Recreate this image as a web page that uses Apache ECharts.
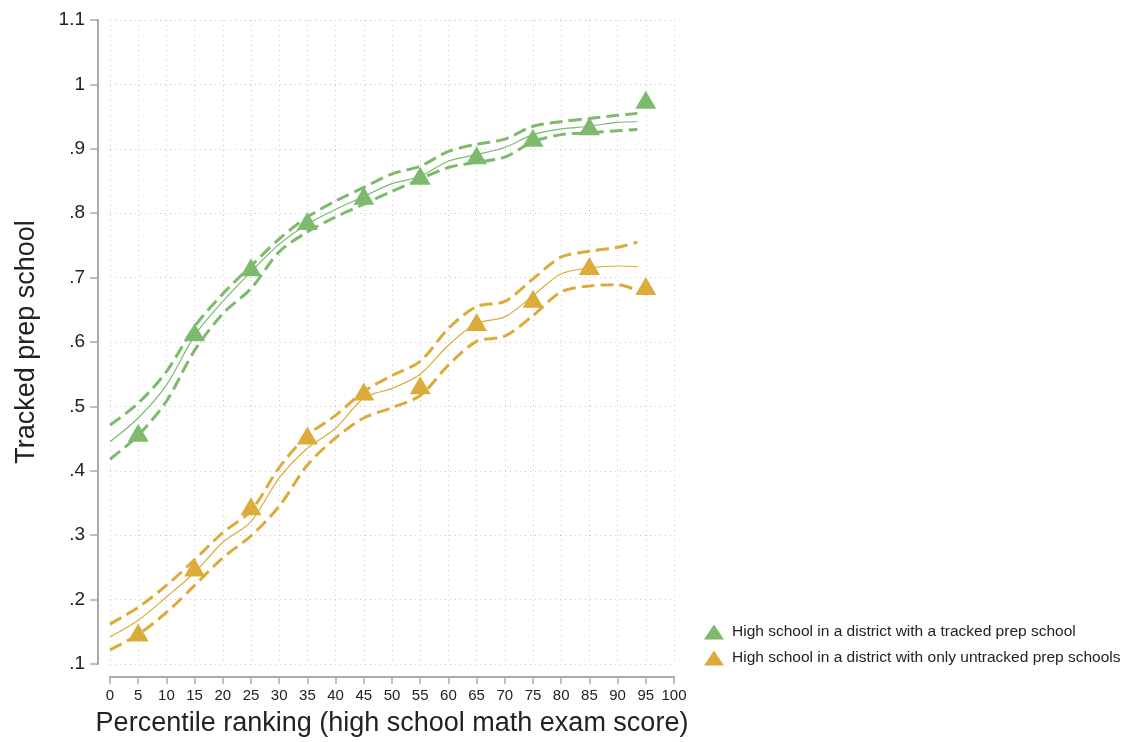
<!DOCTYPE html>
<html>
<head>
<meta charset="utf-8">
<script src="https://cdn.jsdelivr.net/npm/echarts@6/dist/echarts.min.js"></script>
<style>html,body{margin:0;padding:0;background:#fff;}#c{width:1127px;height:742px;}</style>
</head>
<body>
<div id="c"></div>
<script>
// Marker positions (percentile bins)
const binX = [5, 15, 25, 35, 45, 55, 65, 75, 85, 95];
const trackedMeans = [0.459, 0.615, 0.716, 0.788, 0.827, 0.858, 0.890, 0.917, 0.935, 0.976];
const untrackedMeans = [0.149, 0.250, 0.345, 0.455, 0.523, 0.533, 0.631, 0.667, 0.718, 0.687];

// Fitted curves
const fitX = [0, 5, 10, 15, 20, 25, 30, 35, 40, 45, 50, 55, 60, 65, 70, 75, 80, 85, 90, 93.5];
const trackedFit   = [0.445, 0.482, 0.533, 0.610, 0.663, 0.709, 0.752, 0.783, 0.806, 0.826, 0.846, 0.857, 0.881, 0.891, 0.902, 0.922, 0.931, 0.935, 0.941, 0.942];
const trackedUpper = [0.471, 0.505, 0.554, 0.624, 0.675, 0.718, 0.760, 0.794, 0.819, 0.840, 0.861, 0.873, 0.896, 0.907, 0.915, 0.935, 0.942, 0.947, 0.952, 0.955];
const trackedLower = [0.418, 0.455, 0.508, 0.587, 0.644, 0.683, 0.740, 0.771, 0.794, 0.814, 0.834, 0.853, 0.871, 0.879, 0.887, 0.911, 0.922, 0.925, 0.928, 0.930];
const untrackedFit   = [0.142, 0.168, 0.204, 0.242, 0.289, 0.321, 0.389, 0.435, 0.466, 0.513, 0.528, 0.550, 0.595, 0.629, 0.639, 0.672, 0.706, 0.715, 0.718, 0.717];
const untrackedUpper = [0.162, 0.188, 0.222, 0.262, 0.304, 0.338, 0.405, 0.455, 0.486, 0.523, 0.548, 0.570, 0.621, 0.655, 0.663, 0.698, 0.732, 0.741, 0.747, 0.755];
const untrackedLower = [0.122, 0.146, 0.180, 0.222, 0.265, 0.299, 0.345, 0.409, 0.451, 0.482, 0.498, 0.517, 0.564, 0.601, 0.609, 0.641, 0.678, 0.687, 0.689, 0.680];

const yTicks = [0.1, 0.2, 0.3, 0.4, 0.5, 0.6, 0.7, 0.8, 0.9, 1.0, 1.1];
const legendNames = ['High school in a district with a tracked prep school', 'High school in a district with only untracked prep schools'];

const GREEN = '#7dba6e';
const GOLD = '#dcab3a';
const FONT = 'Liberation Sans, Arial, sans-serif';

const pair = (xs, ys) => xs.map((x, i) => [x, ys[i]]);

function lineSeries(ys, color, dashed) {
  return {
    type: 'line', data: pair(fitX, ys), smooth: 0.3, showSymbol: false, symbol: 'none',
    silent: true, z: 2,
    lineStyle: dashed ? {color: color, width: 3, type: [13, 6]} : {color: color, width: 1.2}
  };
}

const chart = echarts.init(document.getElementById('c'), null, {renderer: 'canvas'});
chart.setOption({
  animation: false,
  backgroundColor: '#fff',
  grid: {left: 110, right: 453, top: 20, bottom: 75, containLabel: false},
  legend: {
    data: legendNames, orient: 'vertical', left: 699, top: 619,
    icon: 'triangle', itemWidth: 20, itemHeight: 15, itemGap: 10,
    textStyle: {fontSize: 15.5, color: '#222', fontFamily: FONT, padding: [0, 0, 0, 3]}
  },
  xAxis: {
    type: 'value', min: 0, max: 100, interval: 5, offset: 13,
    axisLine: {show: true, onZero: false, lineStyle: {color: '#aaaaaa', width: 2}},
    axisTick: {show: true, length: 7, lineStyle: {color: '#aaaaaa', width: 1.5}},
    axisLabel: {fontSize: 15, color: '#222', margin: 11, fontFamily: FONT},
    splitLine: {show: true, lineStyle: {color: '#c8c8c8', type: [1, 4], width: 1}},
    name: 'Percentile ranking (high school math exam score)', nameLocation: 'middle', nameGap: 33,
    nameTextStyle: {fontSize: 27, color: '#222', fontFamily: FONT}
  },
  yAxis: {
    type: 'value', min: 0.1, max: 1.1, interval: 0.1, offset: 12,
    axisLine: {show: true, onZero: false, lineStyle: {color: '#aaaaaa', width: 2}},
    axisTick: {show: true, length: 8, lineStyle: {color: '#aaaaaa', width: 1.5}},
    axisLabel: {fontSize: 19, color: '#222', margin: 13, fontFamily: FONT,
      formatter: v => {
        const r = Math.round(v * 10) / 10;
        if (r === 1) return '1';
        return r.toFixed(1).replace(/^0/, '');
      }},
    splitLine: {show: true, lineStyle: {color: '#c8c8c8', type: [1, 4], width: 1}},
    name: 'Tracked prep school', nameLocation: 'middle', nameGap: 58,
    nameTextStyle: {fontSize: 27, color: '#222', fontFamily: FONT}
  },
  series: [
    lineSeries(trackedFit, GREEN, false),
    lineSeries(trackedUpper, GREEN, true),
    lineSeries(trackedLower, GREEN, true),
    lineSeries(untrackedFit, GOLD, false),
    lineSeries(untrackedUpper, GOLD, true),
    lineSeries(untrackedLower, GOLD, true),
    {name: legendNames[0], type: 'scatter', data: pair(binX, trackedMeans), symbol: 'triangle',
     symbolSize: [21, 18], itemStyle: {color: GREEN, opacity: 1}, z: 5},
    {name: legendNames[1], type: 'scatter', data: pair(binX, untrackedMeans), symbol: 'triangle',
     symbolSize: [21, 18], itemStyle: {color: GOLD, opacity: 1}, z: 5}
  ]
});
</script>
</body>
</html>
